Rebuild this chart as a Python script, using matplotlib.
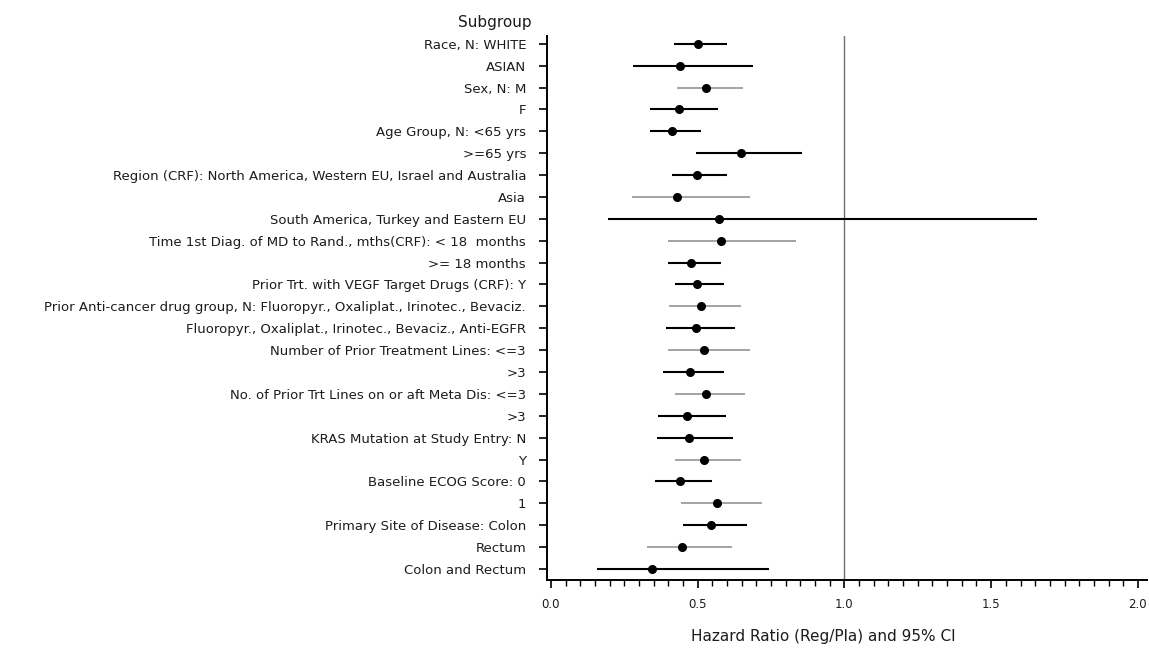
"""
Forest plot of hazard ratios (Reg/Pla) with 95% CI by subgroup.
"""

import matplotlib

matplotlib.use("Agg")
import matplotlib.pyplot as plt
from matplotlib.ticker import MultipleLocator

# ---------------------------------------------------------------------------
# Subgroup rows, top to bottom: label, HR point estimate, lower / upper CI
# ---------------------------------------------------------------------------
LABELS = [
    "Race, N: WHITE",
    "ASIAN",
    "Sex, N: M",
    "F",
    "Age Group, N: <65 yrs",
    ">=65 yrs",
    "Region (CRF): North America, Western EU, Israel and Australia",
    "Asia",
    "South America, Turkey and Eastern EU",
    "Time 1st Diag. of MD to Rand., mths(CRF): < 18  months",
    ">= 18 months",
    "Prior Trt. with VEGF Target Drugs (CRF): Y",
    "Prior Anti-cancer drug group, N: Fluoropyr., Oxaliplat., Irinotec., Bevaciz.",
    "Fluoropyr., Oxaliplat., Irinotec., Bevaciz., Anti-EGFR",
    "Number of Prior Treatment Lines: <=3",
    ">3",
    "No. of Prior Trt Lines on or aft Meta Dis: <=3",
    ">3",
    "KRAS Mutation at Study Entry: N",
    "Y",
    "Baseline ECOG Score: 0",
    "1",
    "Primary Site of Disease: Colon",
    "Rectum",
    "Colon and Rectum",
]
HR = [0.50, 0.44, 0.53, 0.435, 0.414, 0.647, 0.497, 0.431, 0.573, 0.579,
      0.478, 0.497, 0.510, 0.493, 0.520, 0.475, 0.529, 0.464, 0.470, 0.522,
      0.440, 0.565, 0.545, 0.448, 0.345]
CI_LOW = [0.418, 0.281, 0.429, 0.337, 0.337, 0.495, 0.414, 0.277, 0.196,
          0.398, 0.398, 0.424, 0.404, 0.393, 0.398, 0.383, 0.424, 0.365,
          0.363, 0.424, 0.353, 0.444, 0.449, 0.327, 0.158]
CI_HIGH = [0.599, 0.687, 0.656, 0.568, 0.512, 0.854, 0.599, 0.677, 1.657,
           0.834, 0.580, 0.590, 0.646, 0.626, 0.678, 0.590, 0.662, 0.596,
           0.622, 0.646, 0.550, 0.719, 0.667, 0.616, 0.743]

# rows whose CI is drawn with a lighter, thinner line
THIN_ROWS = {2, 7, 9, 12, 14, 16, 19, 21, 23}

plt.rcParams["font.family"] = ["DejaVu Sans"]
TEXT = "#1c1c1c"

fig = plt.figure(figsize=(11.49, 6.48), dpi=100)
ax = fig.add_axes([0.476, 0.105, 0.522, 0.840])

rows = list(range(len(LABELS)))
for i in rows:
    thin = i in THIN_ROWS
    ax.plot([CI_LOW[i], CI_HIGH[i]], [i, i],
            color="#8a8a8a" if thin else "black",
            lw=1.1 if thin else 1.5, solid_capstyle="butt", zorder=2)
ax.plot(HR, rows, "o", color="black", ms=5.5, zorder=3)

ax.axvline(1.0, color="#707070", lw=1.0, zorder=1)

ax.set_xlim(-0.0136, 2.03)
ax.set_ylim(24.5, -0.37)
ax.set_yticks(rows)
ax.set_yticklabels(LABELS, fontsize=9.5, color=TEXT)
for i, tick in enumerate(ax.yaxis.get_major_ticks()):
    if i in THIN_ROWS:
        tick.tick1line.set_color("#8a8a8a")
ax.tick_params(axis="y", direction="out", length=6, width=1.2, pad=9)

ax.xaxis.set_minor_locator(MultipleLocator(0.05))
ax.set_xticks([0.0, 0.5, 1.0, 1.5, 2.0])
ax.set_xticklabels(["0.0", "0.5", "1.0", "1.5", "2.0"], fontsize=8.5, color=TEXT)
ax.tick_params(axis="x", which="major", direction="out", length=6, width=1.2, pad=7)
ax.tick_params(axis="x", which="minor", direction="out", length=4, width=1.0)

for side in ("top", "right"):
    ax.spines[side].set_visible(False)
for side in ("left", "bottom"):
    ax.spines[side].set_linewidth(1.4)

ax.set_xlabel("Hazard Ratio (Reg/Pla) and 95% CI", fontsize=11, color=TEXT)
ax.xaxis.set_label_coords(0.46, -0.090)
fig.text(0.463, 0.966, "Subgroup", ha="right", va="center", fontsize=11,
         color=TEXT)

fig.savefig("out.png", dpi=100)
plt.close(fig)
